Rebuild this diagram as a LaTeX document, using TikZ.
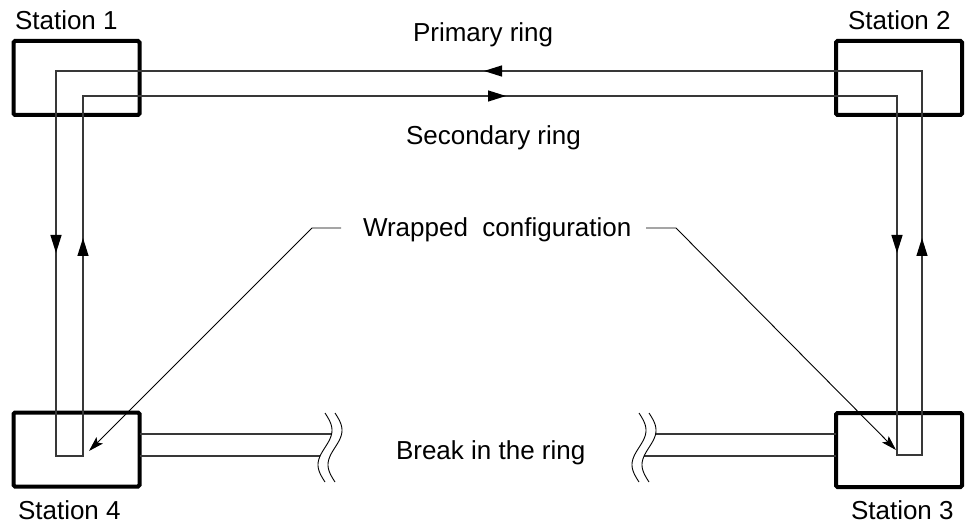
\documentclass[tikz,border=0pt]{standalone}
\usepackage{fontspec}
\setmainfont{Liberation Sans}
\usetikzlibrary{arrows.meta}
\begin{document}
\begin{tikzpicture}[x=1pt,y=-1pt,
  every node/.style={inner sep=0pt,outer sep=0pt,font=\fontsize{26}{30}\selectfont},
  station/.style={draw=black,line width=4pt,rounded corners=1.5pt,minimum width=126pt,minimum height=74pt},
  label/.style={anchor=base west},
  ringline/.style={draw=black!78,line width=1.3pt},
  ringarrow/.style={ringline,-{Triangle[length=18pt,width=11pt,color=black]}},
  leader/.style={draw=black,line width=0.9pt},
  leaderarrow/.style={leader,-{Stealth[length=15pt,width=9pt,inset=3pt]}},
  breakmark/.style={draw=black,line width=0.9pt}]
\useasboundingbox (0,0) rectangle (969,529);
\path[fill=white] (0,0) rectangle (969,529);

% stations
\node[station] (s1) at (76.5,78) {};
\node[station] (s2) at (899,78) {};
\node[station] (s3) at (899,450) {};
\node[station] (s4) at (76.5,449.5) {};

% labels
\node[label] (l1) at (15,30) {Station 1};
\node[label] (l2) at (848,30) {Station 2};
\node[label] (l3) at (851,519) {Station 3};
\node[label] (l4) at (18,519) {Station 4};
\node[label] (lp) at (413,42) {Primary ring};
\node[label] (ls) at (406,145) {Secondary ring};
\node[label] (lw) at (363,237) {Wrapped\ \ configuration};
\node[label] (lb) at (396,459) {Break in the ring};

% ring corner coordinates
\coordinate (o4) at (56,456);
\coordinate (o1) at (56,71);
\coordinate (o2) at (922,71);
\coordinate (o3) at (922,455);
\coordinate (i4) at (83,456);
\coordinate (i1) at (83,96);
\coordinate (i2) at (897,96);
\coordinate (i3) at (897,455);

% rings (wrapped)
\draw[ringline] (i4) -- (o4) -- (o1) -- (o2) -- (o3) -- (i3) -- (i2) -- (i1) -- cycle;

% ring arrows
\draw[ringarrow] (504,71) -- (484,71);
\draw[ringarrow] (486,96) -- (506,96);
\draw[ringarrow] (56,234) -- (56,253);
\draw[ringarrow] (83,258) -- (83,238);
\draw[ringarrow] (897,234) -- (897,253);
\draw[ringarrow] (922,258) -- (922,238);

% broken cable segments
\coordinate (bl1) at (331.6,434);
\coordinate (bl2) at (320.1,456);
\coordinate (br1) at (655.6,434);
\coordinate (br2) at (644.1,456);
\draw[ringline] (s4.east |- bl1) -- (bl1);
\draw[ringline] (s4.east |- bl2) -- (bl2);
\draw[ringline] (br1) -- (s3.west |- br1);
\draw[ringline] (br2) -- (s3.west |- br2);

% break marks
\foreach \xo in {325,335,639,649}{
  \draw[breakmark] plot[domain=0:69,samples=50,smooth] ({\xo+7*sin(\x*5.21739)},{413+\x});
}

% wrapped configuration leaders
\coordinate (wl0) at (341,228);
\coordinate (wl1) at (312,228);
\coordinate (wlt) at (89,451);
\coordinate (wr0) at (646,228);
\coordinate (wr1) at (676,228);
\coordinate (wrt) at (896,450);
\draw[leaderarrow] (wl0) -- (wl1) -- (wlt);
\draw[leaderarrow] (wr0) -- (wr1) -- (wrt);
\end{tikzpicture}
\end{document}
